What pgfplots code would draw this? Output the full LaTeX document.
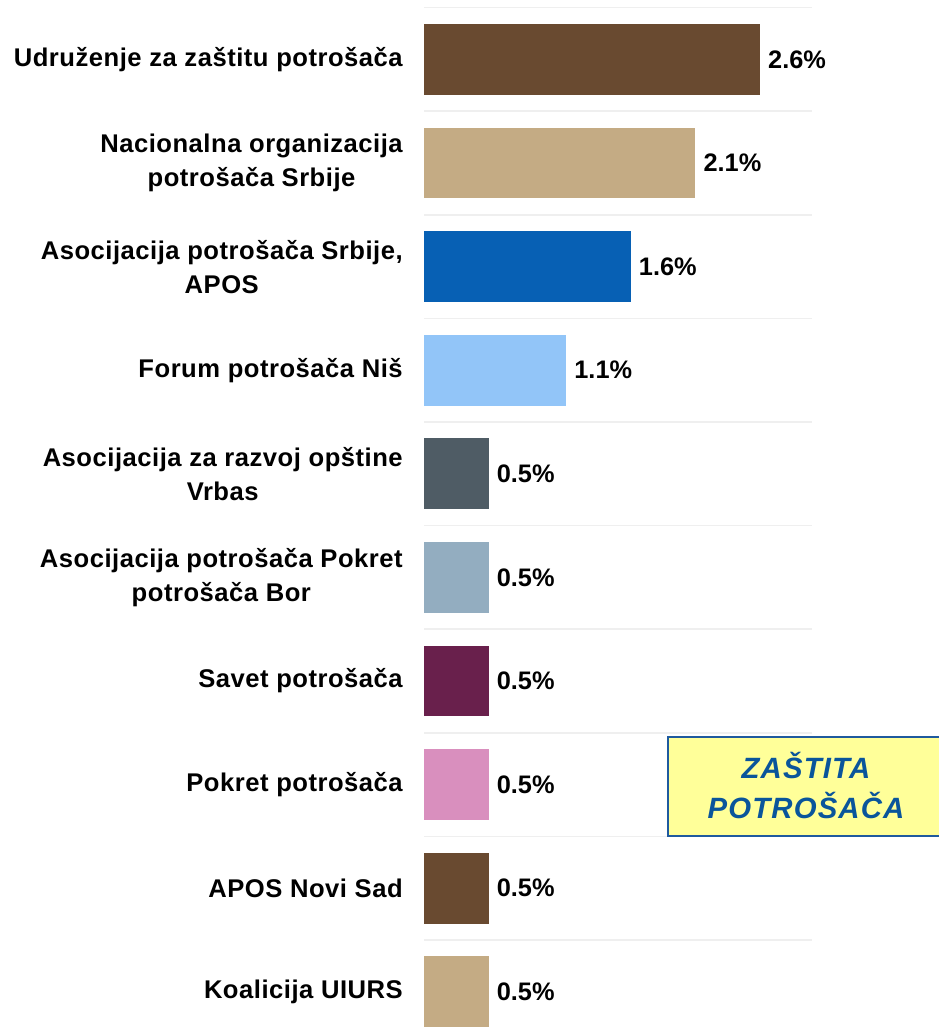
\documentclass[border=0pt]{standalone}
\usepackage{pgfplots}
\pgfplotsset{compat=1.18}
\usepackage{fontspec}
\setmainfont{Liberation Sans}
\newfontfamily\labelfont[LetterSpace=2]{Liberation Sans}
\newfontfamily\boxfont[LetterSpace=4]{Liberation Sans}
\definecolor{c1}{HTML}{694A30}
\definecolor{c2}{HTML}{C4AB84}
\definecolor{c3}{HTML}{0760B4}
\definecolor{c4}{HTML}{92C5F8}
\definecolor{c5}{HTML}{4F5C65}
\definecolor{c6}{HTML}{93ADC0}
\definecolor{c7}{HTML}{69204C}
\definecolor{c8}{HTML}{D98FBE}
\definecolor{gridc}{HTML}{EFEFEF}
\definecolor{boxfill}{HTML}{FFFF99}
\definecolor{boxblue}{HTML}{1F5A9E}
\definecolor{txtblue}{HTML}{0A559B}
\begin{document}
\begin{tikzpicture}
\useasboundingbox (0,0) rectangle (704.25pt,777pt);
\begin{axis}[
  at={(318pt,-5.7pt)}, anchor=south west,
  scale only axis, width=290.7pt, height=777pt,
  xmin=0, xmax=3, ymin=-0.5, ymax=9.5, y dir=reverse,
  xbar, bar width=53pt, bar shift=0pt,
  axis line style={draw=none},
  xtick=\empty,
  ytick={0,1,2,3,4,5,6,7,8,9},
  yticklabels={
    {Udruženje za zaštitu potrošača},
    {Nacionalna organizacija\\potrošača Srbije},
    {Asocijacija potrošača Srbije,\\APOS},
    {Forum potrošača Niš},
    {Asocijacija za razvoj opštine\\Vrbas},
    {Asocijacija potrošača Pokret\\potrošača Bor},
    {Savet potrošača},
    {Pokret potrošača},
    {APOS Novi Sad},
    {Koalicija UIURS}},
  major tick length=0pt, minor tick length=0pt,
  minor ytick={-0.5,0.5,1.5,2.5,3.5,4.5,5.5,6.5,7.5,8.5},
  yminorgrids, minor grid style={draw=gridc, line width=1.2pt},
  yticklabel style={align=center, inner sep=0pt, anchor=east,
    font=\labelfont\fontsize{19.2}{25.5}\selectfont\bfseries},
  yticklabel shift=15.75pt,
  clip=false,
  nodes near coords={\pgfmathprintnumber[fixed,precision=1,fixed zerofill]{\pgfplotspointmeta}\%},
  /pgf/number format/assume math mode=true,
  nodes near coords style={anchor=west, xshift=6pt, inner sep=0pt,
    font=\fontsize{19}{22}\selectfont\bfseries},
]
\addplot[fill=c1, draw=none] coordinates {(2.6,0)};
\addplot[fill=c2, draw=none] coordinates {(2.1,1)};
\addplot[fill=c3, draw=none] coordinates {(1.6,2)};
\addplot[fill=c4, draw=none] coordinates {(1.1,3)};
\addplot[fill=c5, draw=none] coordinates {(0.5,4)};
\addplot[fill=c6, draw=none] coordinates {(0.5,5)};
\addplot[fill=c7, draw=none] coordinates {(0.5,6)};
\addplot[fill=c8, draw=none] coordinates {(0.5,7)};
\addplot[fill=c1, draw=none] coordinates {(0.5,8)};
\addplot[fill=c2, draw=none] coordinates {(0.5,9)};
\end{axis}
\draw[fill=boxfill, draw=boxblue, line width=1.1pt] (501pt,150pt) rectangle (712pt,224.25pt);
\node[anchor=base, inner sep=0pt, text=txtblue, font=\boxfont\fontsize{22}{30}\selectfont\bfseries\itshape] at (604.5pt,192.75pt) {ZAŠTITA};
\node[anchor=base, inner sep=0pt, text=txtblue, font=\boxfont\fontsize{22}{30}\selectfont\bfseries\itshape] at (604.5pt,162.75pt) {POTROŠAČA};
\end{tikzpicture}
\end{document}
